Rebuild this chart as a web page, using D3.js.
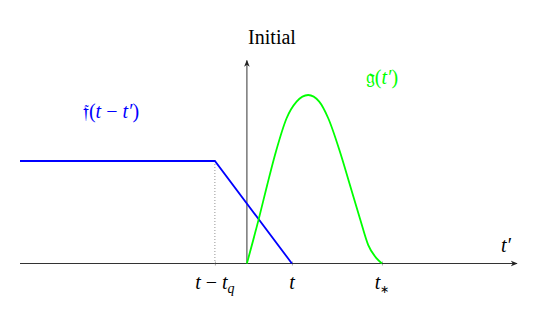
<!DOCTYPE html>
<html>
<head>
<meta charset="utf-8">
<script src="https://cdn.jsdelivr.net/npm/d3@7"></script>
<style>
  body { margin: 0; background: #fff; }
</style>
</head>
<body>
<div id="chart"></div>
<script>
// values (t' units, response units)
var tickVals = [-0.711, 1, 3];          // t - t_q, t, t_*
var blueX = [-5.04, -0.711, 1];
var blueY = [1, 1, 0];
var greenX = [0, 0.267, 0.451, 0.644, 0.882, 1.104, 1.362, 1.607, 1.807, 2.067, 2.289, 2.511, 2.696, 2.882, 3];
var greenY = [0, 0.44, 0.766, 1.09, 1.417, 1.579, 1.644, 1.579, 1.417, 1.09, 0.766, 0.44, 0.18, 0.05, 0];

var w = 540, h = 322;
var x = d3.scaleLinear().domain([-5.04, 6]).range([20, 517]);
var y = d3.scaleLinear().domain([0, 1]).range([263.5, 161]);

var svg = d3.select("#chart").append("svg")
    .attr("width", w).attr("height", h)
    .style("font-family", "'Liberation Serif', 'Times New Roman', 'DejaVu Serif', serif");

var defs = svg.append("defs");
defs.append("marker")
    .attr("id", "arr").attr("viewBox", "0 0 10 10")
    .attr("refX", 9).attr("refY", 5)
    .attr("markerWidth", 7).attr("markerHeight", 7)
    .attr("markerUnits", "userSpaceOnUse")
    .attr("orient", "auto")
  .append("path").attr("d", "M0,1 L10,5 L0,9 L3,5 Z").attr("fill", "#222");

// horizontal axis with ticks
var axis = svg.append("g").attr("transform", "translate(0," + y(0) + ")")
    .call(d3.axisBottom(x).tickValues(tickVals).tickSizeInner(2).tickSizeOuter(0).tickFormat(""));
axis.select(".domain").remove();
axis.selectAll(".tick line").attr("stroke", "#aaa").attr("y1", -2);

svg.append("line")
    .attr("x1", x(-5.04)).attr("x2", x(6))
    .attr("y1", y(0)).attr("y2", y(0))
    .attr("stroke", "#333").attr("stroke-width", 1.2)
    .attr("marker-end", "url(#arr)");

// vertical axis
svg.append("line")
    .attr("x1", x(0)).attr("x2", x(0))
    .attr("y1", y(0)).attr("y2", y(1.98))
    .attr("stroke", "#555").attr("stroke-width", 1.2)
    .attr("marker-end", "url(#arr)");

// dotted guide
svg.append("line")
    .attr("x1", x(tickVals[0])).attr("x2", x(tickVals[0]))
    .attr("y1", y(1)).attr("y2", y(0))
    .attr("stroke", "#777").attr("stroke-width", 0.8)
    .attr("stroke-dasharray", "1,2");

// blue
var line = d3.line().x(function (d) { return x(d[0]); }).y(function (d) { return y(d[1]); });
svg.append("path")
    .datum(d3.zip(blueX, blueY))
    .attr("d", line)
    .attr("fill", "none").attr("stroke", "#0000ff").attr("stroke-width", 1.8);

// green
svg.append("path")
    .datum(d3.zip(greenX, greenY))
    .attr("d", line.curve(d3.curveMonotoneX))
    .attr("fill", "none").attr("stroke", "#00ff00").attr("stroke-width", 1.8);

// labels
var fs = 20;
function lab(px, py, color, anchor) {
    return svg.append("text").attr("x", px).attr("y", py)
        .attr("font-family", "Liberation Serif, Times New Roman, serif")
        .attr("fill", color).attr("font-size", fs).attr("text-anchor", anchor || "middle");
}

lab(272, 44, "#000").text("Initial");

var t1 = lab(x(tickVals[0]), 289, "#000");
t1.append("tspan").attr("font-style", "italic").text("t");
t1.append("tspan").text(" \u2212 ");
t1.append("tspan").attr("font-style", "italic").text("t");
t1.append("tspan").attr("font-style", "italic").attr("font-size", 14).attr("dy", 4).text("q");

lab(x(tickVals[1]), 289, "#000").attr("font-style", "italic").text("t");

var t3 = lab(x(tickVals[2]), 289, "#000");
t3.append("tspan").attr("font-style", "italic").text("t");
t3.append("tspan").attr("font-size", 11).attr("dy", 4).text("\u2217");

lab(506, 252, "#000").attr("font-style", "italic").text("t\u2032");

var f = lab(111, 118, "#0000ff");
f.append("tspan").text("\ud835\udd23(");
f.append("tspan").attr("font-style", "italic").text("t");
f.append("tspan").text(" \u2212 ");
f.append("tspan").attr("font-style", "italic").text("t\u2032");
f.append("tspan").text(")");

var g = lab(382, 84, "#00ff00");
g.append("tspan").text("\ud835\udd24(");
g.append("tspan").attr("font-style", "italic").text("t\u2032");
g.append("tspan").text(")");
</script>
</body>
</html>
